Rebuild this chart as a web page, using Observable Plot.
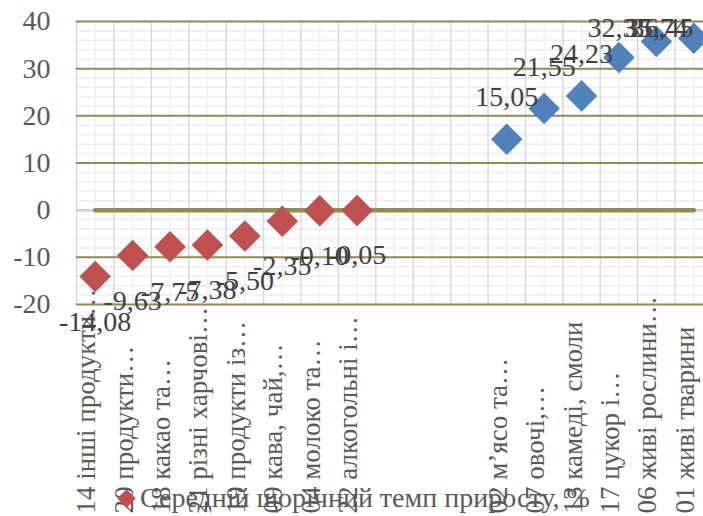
<!DOCTYPE html>
<html><head><meta charset="utf-8">
<script src="https://cdn.jsdelivr.net/npm/d3@7"></script>
<script src="https://cdn.jsdelivr.net/npm/@observablehq/plot@0.6"></script>
<style>
html,body{margin:0;padding:0;background:#fff;overflow:hidden}
#wrap{position:relative;width:703px;height:516px;overflow:hidden}
#wrap svg{max-width:none!important;display:block}
#legend{position:absolute;left:140px;top:484px;font-family:"Liberation Serif","Times New Roman",serif;font-size:28px;line-height:28px;color:#595959;white-space:nowrap}
#swatch{position:absolute;left:119.5px;top:491.5px;width:13px;height:13px;background:#C0504D;transform:rotate(45deg)}
</style></head><body>
<div id="wrap"><div id="chart"></div><div id="swatch"></div><div id="legend">Середній щорічний темп приросту, %</div></div>
<script>
// Category slots along the x axis (three empty slots separate the two groups)
const categories = [
  "14 інші продукти…", "20 продукти…", "18 какао та…", "21 різні харчові…",
  "19 продукти із…", "09 кава, чай,…", "04 молоко та…", "22 алкогольні і…",
  "", "", "",
  "02 м’ясо та…", "07 овочі,…", "13 камеді, смоли", "17 цукор і…",
  "06 живі рослини…", "01 живі тварини"
];
// Decline group (red) and growth group (blue)
const declineCategories = ["14 інші продукти…", "20 продукти…", "18 какао та…", "21 різні харчові…",
  "19 продукти із…", "09 кава, чай,…", "04 молоко та…", "22 алкогольні і…"];
const declineValues = [-14.08, -9.63, -7.75, -7.38, -5.50, -2.35, -0.10, -0.05];
const growthCategories = ["02 м’ясо та…", "07 овочі,…", "13 камеді, смоли", "17 цукор і…",
  "06 живі рослини…", "01 живі тварини"];
const growthValues = [15.05, 21.55, 24.23, 32.35, 35.74, 36.45];
// Zero reference series across all slots
const baselineValues = [0,0,0,0,0,0,0,0,0,0,0,0,0,0,0,0,0];
const yTicks = [-20, -10, 0, 10, 20, 30, 40];

const fmt = v => v.toFixed(2).replace(".", ",");
const declineRows = declineCategories.map((c, k) => ({i: categories.indexOf(c), v: declineValues[k]}));
const growthRows = growthCategories.map((c, k) => ({i: categories.indexOf(c), v: growthValues[k]}));
const baselineRows = baselineValues.map((v, i) => ({i, v}));
const labelRows = categories.map((c, i) => ({i, c})).filter(d => d.c);

const yMinor = d3.range(-20, 41, 2);
const xBounds = d3.range(-0.5, categories.length, 1);
const xCenters = d3.range(0, categories.length);

const olive = "#948A54";
const chart = Plot.plot({
  width: 712, height: 516,
  marginLeft: 76, marginRight: 0, marginTop: 21, marginBottom: 212,
  style: {fontFamily: "Liberation Serif, Times New Roman, serif", fontSize: "28px", color: "#595959", background: "#fff", maxWidth: "none"},
  x: {domain: [-0.5, categories.length - 0.5], axis: null},
  y: {domain: [-20, 40], ticks: yTicks, tickFormat: d => String(d), tickSize: 0, tickPadding: 26, label: null},
  marks: [
    Plot.ruleY(yMinor, {stroke: "#ededed", strokeWidth: 1.5}),
    Plot.ruleX(xCenters, {stroke: "#efefef", strokeWidth: 1.5}),
    Plot.ruleX(xBounds, {stroke: "#d9d9d9", strokeWidth: 1.5}),
    Plot.ruleY(yTicks, {stroke: olive, strokeWidth: 2}),
    Plot.ruleY([0], {stroke: "#d9d9d9", strokeWidth: 2}),
    Plot.line(baselineRows, {x: "i", y: "v", stroke: olive, strokeWidth: 4.5, strokeLinecap: "round"}),
    Plot.dot(declineRows, {x: "i", y: "v", symbol: "diamond2", r: 14.2, fill: "#C0504D", stroke: "none"}),
    Plot.dot(growthRows, {x: "i", y: "v", symbol: "diamond2", r: 14.2, fill: "#4F81BD", stroke: "none"}),
    Plot.text(labelRows, {x: "i", text: "c", frameAnchor: "bottom", dy: 209, rotate: -90, textAnchor: "start", fontSize: 27, fill: "#595959"}),
    Plot.text(declineRows, {x: "i", y: "v", text: d => fmt(d.v), dy: 45, fontSize: 28, fill: "#404040"}),
    // growth labels sit above the points, kept inside the chart's top and right edges
    Plot.text(growthRows, {x: d => Math.min(d.i, categories.length - 1.85), y: d => Math.min(d.v + 8.89, 38.6), text: d => fmt(d.v), fontSize: 28, fill: "#404040"})
  ]
});
document.getElementById("chart").appendChild(chart);
</script>
</body></html>
